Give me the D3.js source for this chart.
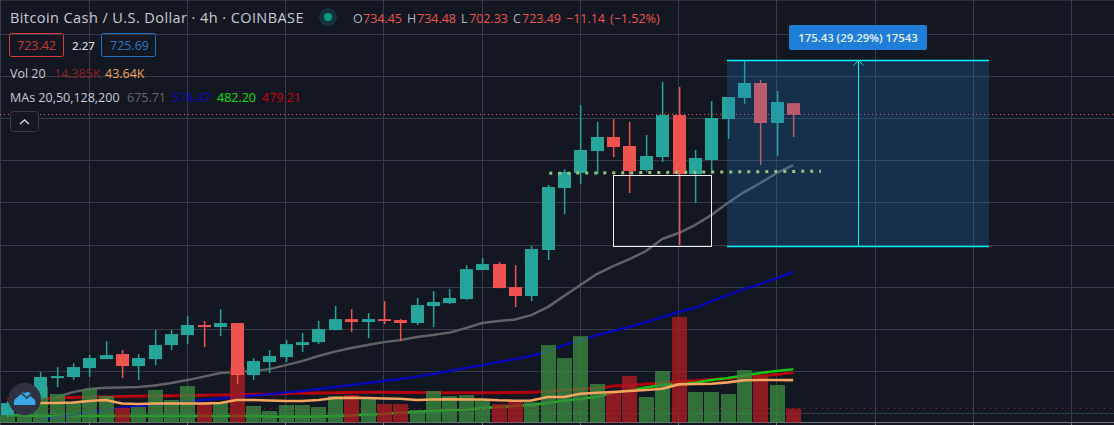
<!DOCTYPE html>
<html><head><meta charset="utf-8">
<script src="https://cdnjs.cloudflare.com/ajax/libs/d3/7.8.5/d3.min.js"></script>
<style>html,body{margin:0;padding:0;background:#131722;overflow:hidden}svg{display:block}text{font-family:"Open Sans",sans-serif}</style>
</head><body><svg id="c" width="1114" height="425"></svg>
<script>
const opens=[438.8,450.2,455,473.9,474.9,483.4,491.9,496.7,485.3,491.9,505.2,514.7,524.2,522.3,526.1,476.8,489.1,493.8,505.2,508,519.4,529.8,527,529.8,528.9,526.1,542.2,545,548.8,576.3,582,560.2,551.7,595.3,654,668.3,689.1,702.4,693.9,671.1,683.4,723.2,667.3,680.6,719.4,739.4,753.6,715.7,734.45];
const highs=[452,463.5,479.6,484.3,488.1,495.7,509,500.5,496.7,519.4,519.4,532.7,528,539.3,526.1,492.9,500.5,509.9,516.6,528,542.2,539.3,535.5,546.9,529.8,549.8,556.4,558.3,581,587.7,583.9,581,599.1,656.9,672,732.7,716.6,719.4,716.6,704.3,754.5,749.8,690.1,736.5,740.3,775.4,756.4,746,734.48];
const lows=[437,447,453,465.4,472,474.9,491.9,473.9,472,486.2,500.5,506.1,503.3,513.7,468.2,472,478.7,489.1,498.6,506.1,519.4,517.5,511.8,525.1,509,524.2,522.3,544.1,547.9,576.3,559.2,541.2,546.9,585.8,629.4,657.8,667.3,683.4,649.3,669.2,678.7,600,639.8,667.3,700.5,733.7,675.8,684.4,702.33];
const closes=[450.2,459.7,474.9,475.8,484.3,492.9,495.7,485.3,492.9,505.2,515.6,524.2,522.3,526.1,476.8,490,494.8,506.1,508,520.4,529.8,527,529.8,528,526.1,543.1,546,549.8,577.2,582,559.2,551.7,596.2,655,669.2,690.1,702.4,692.9,670.2,684.4,723.2,667.3,682.5,720.4,740.3,753.6,715.7,735.6,723.49];
const volumes=[7.7,18,36.6,29.4,21,34.5,27.3,15,16,33.5,23.2,37.6,19,20,57.2,17,11.8,18,18,16,27.3,28.3,24.2,19,19,12.9,32.4,27.3,28.3,23.2,19,22.1,21,79.8,66.4,89,39.7,30.4,47.9,26.3,53,108.7,31.4,31.4,29.4,54,48.9,38.6,14.385];
const volMA=[null,null,20.1,20.1,20.6,22.1,23.2,19.6,19.1,19.6,19.6,19.6,19.6,20.1,23.2,23.2,22.7,22.1,22.1,23.2,25.2,25.5,25.2,24.7,24.5,23.2,23.7,23.9,23.7,23.7,22.9,22.5,22.7,26.3,26.3,29.7,30.7,31.4,32.4,33.5,34.8,39.3,39.7,40,41.4,43.5,43.8,43.8,43.64];
const ma20=[null,null,null,455.9,460.6,463.5,464.7,465.1,465.4,466.8,469.2,472,475.3,478.7,479.6,480.6,482.4,486.2,490,494.8,499,502.4,505.2,508,509.9,512.8,514.7,517,521.3,526.1,528,529.4,533.6,541.2,551.7,562.1,572.5,580.1,586.7,594.3,605.7,611.4,619,628.4,639.8,650.2,658.8,668.3,675.71];
const ma50=[null,null,435,436.9,438.8,441.7,443.6,445.5,447.4,448.3,450.2,452.1,453.1,454.5,455.9,457.3,458.7,460.2,461.6,463.5,465.4,467.3,469.2,471.1,473,475.3,477.7,480.6,483.4,486.2,489.1,491.9,494.8,499.5,505.2,509.9,514.7,518.5,522.3,527,531.7,536.5,540.3,546.9,552.6,558.3,563,568.7,574.47];
const ma128=[438.4,438.4,437.9,437.9,437.9,437.9,437.9,437.9,437.9,437.9,437.9,437.9,437.9,437.9,437.9,437.9,437.4,437.4,437.4,437.4,437.9,438.4,439.1,439.8,441,441.9,442.8,443.6,444,445.5,446.4,447.4,448.3,450.2,452.4,454,456.2,459.7,462.5,464.9,467.3,468.2,469.5,472,473.9,476.3,478.7,480.6,482.2];
const ma200=[454,454.3,454.6,455,455.4,455.9,456.1,456.4,456.7,456.9,457.1,457.3,457.6,457.8,458,458.5,458.7,459.2,459.5,459.7,460,460.2,460.4,460.4,460.3,460.2,460,460,460,460,460,460.2,460.6,461.1,462.5,463.5,464.4,466.3,466.8,468.2,469.5,470.6,471.5,472.5,473.6,474.9,475.8,477.2,479.21];
const priceTicks=[440,480,520,560,600,640,680,720,760,800];
const timeTicks=[5,11,17,23,29,35,41,47,53,59,65];
const lastClose=723.49, lastVolume=14.385;
const supportLevel=[668,670], supportSpan=[33.1,49.7];
const boxSpan=[37,43], boxPrices=[598.6,665.9];
const tradeSpan=[44,60], tradeMid=52, tradePrices=[598.94,774.37];

const W=1114,H=425;
const svg=d3.select("#c");
const x=d3.scaleLinear().domain([0,48]).range([7.4,793.2]);
const y=d3.scaleLinear().domain([429.45,832.25]).range([425,0]);
const v=d3.scaleLinear().domain([0,100]).range([422.5,325.5]);
const G="#363a4b";
const snap=p=>Math.round(p-.5)+.5;

// frame
svg.append("line").attr("x1",0).attr("x2",W).attr("y1",.5).attr("y2",.5).attr("stroke","#2a2e39");
svg.append("line").attr("x1",.5).attr("x2",.5).attr("y1",0).attr("y2",H).attr("stroke",G);

// grid via axes
const gy=svg.append("g").call(d3.axisRight(y).offset(0).tickValues(priceTicks).tickSize(W).tickFormat(""));
gy.select(".domain").remove();
gy.selectAll("line").attr("stroke",G).attr("shape-rendering","crispEdges");
const gx=svg.append("g").attr("transform","translate(0,422.5)")
  .call(d3.axisTop(x).offset(0).tickValues(timeTicks).tickSize(423).tickFormat(""));
gx.select(".domain").remove();
gx.selectAll("line").attr("stroke",G).attr("shape-rendering","crispEdges");
const gb=svg.append("g").attr("transform","translate(0,422.5)")
  .call(d3.axisBottom(x).offset(0).tickValues(timeTicks).tickSize(3).tickFormat(""));
gb.select(".domain").remove();
gb.selectAll("line").attr("stroke","#70747f").attr("shape-rendering","crispEdges");
svg.append("line").attr("x1",0).attr("x2",W).attr("y1",422.5).attr("y2",422.5).attr("stroke","#70747f");

// last-price line
svg.append("line").attr("x1",0).attr("x2",W).attr("y1",snap(y(lastClose))).attr("y2",snap(y(lastClose)))
  .attr("stroke","#ef5350").attr("stroke-dasharray","1,3");

const line=d3.line().defined(d=>d!=null).x((d,i)=>x(i)).y(d=>y(d));
const drawLine=(data,color,w)=>svg.append("path").datum(data).attr("d",line).attr("fill","none").attr("stroke",color).attr("stroke-width",w).attr("stroke-linejoin","round");
drawLine(ma200,"#b5000f",3);
drawLine(ma128,"#12c412",2.5);
drawLine(ma50,"#0808b8",2.5);
drawLine(ma20,"#626266",2.5);

// volume bars
const idx=d3.range(closes.length);
svg.append("g").selectAll("rect").data(idx).join("rect")
  .attr("x",i=>Math.round(x(i))-7).attr("width",15).attr("y",i=>v(volumes[i])).attr("height",i=>v(0)-v(volumes[i]))
  .attr("fill",i=>closes[i]>=opens[i]?"#3b8740":"#aa1d20").attr("opacity",.8);
svg.append("line").attr("x1",0).attr("x2",W).attr("y1",snap(v(lastVolume))).attr("y2",snap(v(lastVolume)))
  .attr("stroke","#a5201f").attr("stroke-dasharray","1,5");
svg.append("path").datum(volMA)
  .attr("d",d3.line().defined(d=>d!=null).x((d,i)=>x(i)).y(d=>v(d)))
  .attr("fill","none").attr("stroke","#f5a55e").attr("stroke-width",2.6).attr("stroke-linejoin","round");

// candles
const col=i=>closes[i]>=opens[i]?"#26a69a":"#ef5350";
const cg=svg.append("g");
cg.selectAll("rect.body").data(idx).join("rect").attr("class","body")
  .attr("x",i=>Math.round(x(i))+.5-6.5).attr("width",13)
  .attr("y",i=>y(Math.max(opens[i],closes[i])))
  .attr("height",i=>Math.max(1.5,Math.abs(y(opens[i])-y(closes[i])))).attr("fill",col);
cg.selectAll("rect.wick").data(idx).join("rect").attr("class","wick")
  .attr("x",i=>Math.round(x(i))-.1).attr("width",1.5)
  .attr("y",i=>y(highs[i])).attr("height",i=>y(lows[i])-y(highs[i])).attr("fill",col);

// white box
svg.append("rect").attr("x",snap(x(boxSpan[0])+.4)).attr("width",Math.round(x(boxSpan[1])-x(boxSpan[0])))
  .attr("y",snap(y(boxPrices[1]))).attr("height",Math.round(y(boxPrices[0])-y(boxPrices[1])))
  .attr("fill","none").attr("stroke","#f0f0f0").attr("stroke-width",1);

// trade tool
const tx0=Math.floor(x(tradeSpan[0])),tx1=Math.floor(x(tradeSpan[1])),ty0=snap(y(tradePrices[1]))-1,ty1=snap(y(tradePrices[0])),tm=Math.round(x(tradeMid))-.5;
svg.append("rect").attr("x",tx0).attr("width",tx1-tx0).attr("y",ty0).attr("height",ty1-ty0).attr("fill","rgba(33,120,200,.25)");
[ty0,ty1].forEach(t=>svg.append("line").attr("x1",tx0).attr("x2",tx1).attr("y1",t).attr("y2",t).attr("stroke","#00f5f8").attr("stroke-width",1.4));
svg.append("line").attr("x1",tm).attr("x2",tm).attr("y1",ty0).attr("y2",ty1).attr("stroke","#00f5f8");
svg.append("path").attr("d",`M${tm-5},${ty0+5}L${tm},${ty0}L${tm+5},${ty0+5}`).attr("fill","none").attr("stroke","#00d8dc");
svg.append("rect").attr("x",789).attr("y",25).attr("width",138).attr("height",25).attr("rx",2).attr("fill","#1e7ed8");
svg.append("text").attr("x",858).attr("y",41.5).attr("text-anchor","middle").attr("fill","#eaf3fc").attr("font-size",11.3).attr("font-weight",600).text("175.43 (29.29%) 17543");

// support dots
svg.append("line").attr("x1",x(supportSpan[0])).attr("x2",x(supportSpan[1]))
  .attr("y1",y(supportLevel[0])).attr("y2",y(supportLevel[1]))
  .attr("stroke","#93c583").attr("stroke-width",3).attr("stroke-dasharray","3,6");

// header
const T=(tx,ty,s,c,fs=13,fw=400)=>svg.append("text").attr("x",tx).attr("y",ty).attr("fill",c).attr("font-size",fs).attr("font-weight",fw).text(s);
T(10,23,"Bitcoin Cash / U.S. Dollar · 4h · COINBASE","#c9cbd2",14.5).attr("letter-spacing",.42);
svg.append("circle").attr("cx",328).attr("cy",17).attr("r",9).attr("fill","#15333a");
svg.append("circle").attr("cx",328).attr("cy",17).attr("r",4).attr("fill","#089981");
const L="#b2b5be",R="#ef5350";
[[353,"O",L],[363,"734.45",R],[407,"H",L],[417,"734.48",R],[461,"L",L],[469,"702.33",R],[513,"C",L],[522,"723.49",R],[566,"−11.14",R],[610,"(−1.52%)",R]].forEach(d=>T(d[0],23,d[1],d[2],12.5));
svg.append("rect").attr("x",9.5).attr("y",33.5).attr("width",54).attr("height",23).attr("rx",2).attr("fill","none").attr("stroke","#d63a3a");
T(17,50,"723.42","#c9383a",12.5);
T(72,50,"2.27","#d1d4dc",11.5,600);
svg.append("rect").attr("x",101.5).attr("y",33.5).attr("width",54).attr("height",23).attr("rx",2).attr("fill","none").attr("stroke","#1e6fc8");
T(110,50,"725.69","#2a78c8",12.5);
T(10,78,"Vol 20","#c9cbd2",12.5);
T(54,78,"14.385K","#8c2020",12.5);
T(105,78,"43.64K","#f0a25c",12.5);
T(10,102,"MAs 20,50,128,200","#c9cbd2",12.5);
T(127,102,"675.71","#666",12.5);
T(172,102,"574.47","#0a0ac8",12.5);
T(217,102,"482.20","#0de00d",12.5);
T(262,102,"479.21","#d0000f",12.5);
svg.append("rect").attr("x",10.5).attr("y",111.5).attr("width",28).attr("height",20).attr("rx",3).attr("fill","#131722").attr("stroke","#363a45");
svg.append("path").attr("d","M20,124L24.5,120L29,124").attr("fill","none").attr("stroke","#d1d4dc").attr("stroke-width",1.5);

// logo
svg.append("circle").attr("cx",24.7).attr("cy",399).attr("r",16.2).attr("fill","#2f3341");
svg.append("path").attr("d","M14,405 Q13,398 18,397 Q20,391 25,393 Q30,390 31,396 Q36,397 35.5,405 Z").attr("fill","#3ba6e8");
svg.append("path").attr("d","M15,398L21,393L27,398L30,395L35,399").attr("fill","none").attr("stroke","#2f3341").attr("stroke-width",1.5);
</script></body></html>
